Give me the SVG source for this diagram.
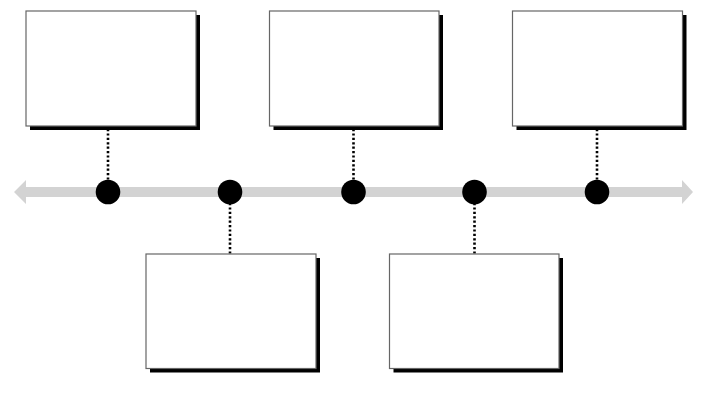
<svg xmlns="http://www.w3.org/2000/svg" width="725" height="396" viewBox="0 0 725 396">
<style>
.shadow{fill:#000}
.box{fill:#fff;stroke:#666;stroke-width:1.2}
.dots{stroke:#000;stroke-width:2.6;stroke-dasharray:2.2 2.2;fill:none}
.dot{fill:#000}
.axis{fill:#d3d3d3}
</style>
<rect width="725" height="396" fill="#fff"/>
<g id="timeline">
<polygon class="axis" points="14,192 26,180 26,187 682,187 682,180 693,192 682,204 682,197 26,197 26,204"/>
</g>
<g id="connectors">
<line class="dots" x1="108" y1="129" x2="108" y2="181"/>
<line class="dots" x1="230" y1="203" x2="230" y2="254"/>
<line class="dots" x1="353.5" y1="129" x2="353.5" y2="181"/>
<line class="dots" x1="474.5" y1="203" x2="474.5" y2="254"/>
<line class="dots" x1="597" y1="129" x2="597" y2="181"/>
</g>
<g id="point1"><circle class="dot" cx="108" cy="192" r="12.3"/></g>
<g id="point2"><circle class="dot" cx="230" cy="192" r="12.3"/></g>
<g id="point3"><circle class="dot" cx="353.5" cy="192" r="12.3"/></g>
<g id="point4"><circle class="dot" cx="474.5" cy="192" r="12.3"/></g>
<g id="point5"><circle class="dot" cx="597" cy="192" r="12.3"/></g>
<g id="box1"><rect class="shadow" x="30" y="15" width="170" height="115"/><rect class="box" x="26" y="11" width="170" height="115"/></g>
<g id="box2"><rect class="shadow" x="273.5" y="15" width="169.5" height="115"/><rect class="box" x="269.5" y="11" width="169.5" height="115"/></g>
<g id="box3"><rect class="shadow" x="516.5" y="15" width="170" height="115"/><rect class="box" x="512.5" y="11" width="170" height="115"/></g>
<g id="box4"><rect class="shadow" x="150" y="258" width="170" height="114.5"/><rect class="box" x="146" y="254" width="170" height="114.5"/></g>
<g id="box5"><rect class="shadow" x="393.5" y="258" width="169.5" height="114.5"/><rect class="box" x="389.5" y="254" width="169.5" height="114.5"/></g>
</svg>
